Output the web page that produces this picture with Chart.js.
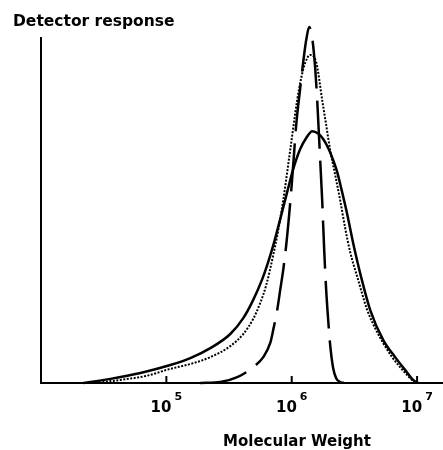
<!DOCTYPE html>
<html>
<head>
<meta charset="utf-8">
<script src="https://cdn.jsdelivr.net/npm/chart.js@4"></script>
<style>
  html, body { margin: 0; padding: 0; background: #fff; }
  #wrap { width: 443px; height: 450px; }
</style>
</head>
<body>
<div id="wrap"><canvas id="c" width="443" height="450"></canvas></div>
<script>
// Molecular weight (x) and detector response (y, % of axis height)
const solidMW = [21800, 35800, 62100, 107600, 155300, 224200, 323600, 410700, 493300, 582000, 649700, 725400, 809600, 920700, 1028000, 1169000, 1305000, 1457000, 1626000, 1782000, 1954000, 2142000, 2304000, 2480000, 2769000, 3090000, 3579000, 4222000, 5360000, 6679000, 8024000, 9293000, 10190000];
const solidResp = [0, 1.2, 2.9, 5.2, 7.2, 10.1, 14.2, 18.8, 24.1, 30.1, 35.1, 40.9, 47.5, 55.4, 62.0, 67.8, 71.0, 73.0, 72.3, 70.7, 68.1, 64.6, 61.2, 56.5, 49.0, 40.6, 30.7, 21.2, 12.5, 7.5, 3.8, 0.9, 0];

const dottedMW = [27200, 43000, 68000, 107600, 155300, 224200, 323600, 410700, 493300, 561000, 626300, 712200, 780500, 855600, 972700, 1106000, 1190000, 1281000, 1404000, 1568000, 1750000, 1883000, 2027000, 2222000, 2435000, 2669000, 2925000, 3388000, 3996000, 4628000, 5360000, 6322000, 7318000, 8477000, 9641000];
const dottedResp = [0, 0.9, 2.0, 4.1, 5.5, 7.5, 10.7, 14.2, 18.6, 23.2, 28.4, 37.1, 44.3, 53.0, 67.5, 82.0, 88.4, 92.8, 95.1, 93.0, 82.0, 74.8, 67.5, 60.3, 53.0, 44.9, 38.0, 29.9, 21.2, 15.9, 11.6, 7.5, 4.6, 2.0, 0];

const dashedMW = [186600, 269400, 367800, 493300, 592900, 674100, 712200, 766400, 809600, 855600, 904200, 972700, 1028000, 1086000, 1169000, 1235000, 1305000, 1379000, 1457000, 1539000, 1597000, 1687000, 1750000, 1816000, 1883000, 1954000, 2027000, 2142000, 2263000, 2435000, 2669000];
const dashedResp = [0, 0.3, 1.7, 4.6, 7.5, 11.6, 15.4, 21.2, 27.0, 32.8, 40.0, 52.2, 63.2, 74.8, 85.5, 93.0, 99.4, 103.2, 100.0, 91.3, 82.0, 64.6, 53.0, 38.6, 27.0, 18.3, 11.0, 4.3, 1.4, 0.3, 0];

const tickValues = [1e5, 1e6, 1e7];
const tickExponents = ['5', '6', '7'];
const yTitle = 'Detector response';
const xTitle = 'Molecular Weight';

function pts(xs, ys) { return xs.map((x, i) => ({ x: x, y: ys[i] })); }

const FONT = '"DejaVu Sans", "Liberation Sans", sans-serif';

const textPlugin = {
  id: 'textPlugin',
  afterDraw(chart) {
    const ctx = chart.ctx;
    const xs = chart.scales.x;
    const area = chart.chartArea;
    ctx.save();
    ctx.fillStyle = '#000';
    ctx.strokeStyle = '#000';
    ctx.font = 'bold 15.5px ' + FONT;
    ctx.textAlign = 'left';
    ctx.textBaseline = 'alphabetic';
    ctx.fillText(yTitle, 13, 26);
    ctx.lineWidth = 2;
    tickValues.forEach((v, i) => {
      const px = xs.getPixelForValue(v);
      ctx.beginPath();
      ctx.moveTo(px, area.bottom);
      ctx.lineTo(px, area.bottom - 7);
      ctx.stroke();
      ctx.font = 'bold 15px ' + FONT;
      const w10 = ctx.measureText('10').width;
      ctx.font = 'bold 11px ' + FONT;
      const we = ctx.measureText(tickExponents[i]).width;
      const start = px - (w10 + 3 + we) / 2;
      ctx.font = 'bold 15px ' + FONT;
      ctx.fillText('10', start, 412);
      ctx.font = 'bold 11px ' + FONT;
      ctx.fillText(tickExponents[i], start + w10 + 3, 400);
    });
    ctx.font = 'bold 15px ' + FONT;
    ctx.textAlign = 'center';
    ctx.fillText(xTitle, 297, 446);
    ctx.restore();
  }
};

new Chart(document.getElementById('c'), {
  type: 'line',
  data: {
    datasets: [
      { label: 'solid', data: pts(solidMW, solidResp), borderColor: '#000', borderWidth: 2.5, pointRadius: 0, fill: false, cubicInterpolationMode: 'monotone', clip: false },
      { label: 'dotted', data: pts(dottedMW, dottedResp), borderColor: '#000', borderWidth: 2, borderDash: [2, 1.5], pointRadius: 0, fill: false, cubicInterpolationMode: 'monotone', clip: false },
      { label: 'dashed', data: pts(dashedMW, dashedResp), borderColor: '#000', borderWidth: 2.5, borderDash: [48, 12], pointRadius: 0, fill: false, cubicInterpolationMode: 'monotone', clip: false }
    ]
  },
  options: {
    responsive: false,
    animation: false,
    devicePixelRatio: 1,
    layout: { padding: { left: 41, top: 38, right: 0, bottom: 67 } },
    plugins: { legend: { display: false }, tooltip: { enabled: false }, title: { display: false } },
    scales: {
      x: {
        type: 'logarithmic', min: 10000, max: 16100000,
        grid: { display: false, drawTicks: false },
        ticks: { display: false },
        border: { display: true, color: '#000', width: 2 }
      },
      y: {
        type: 'linear', min: 0, max: 100,
        grid: { display: false, drawTicks: false },
        ticks: { display: false },
        border: { display: true, color: '#000', width: 2 }
      }
    }
  },
  plugins: [textPlugin]
});
</script>
</body>
</html>
